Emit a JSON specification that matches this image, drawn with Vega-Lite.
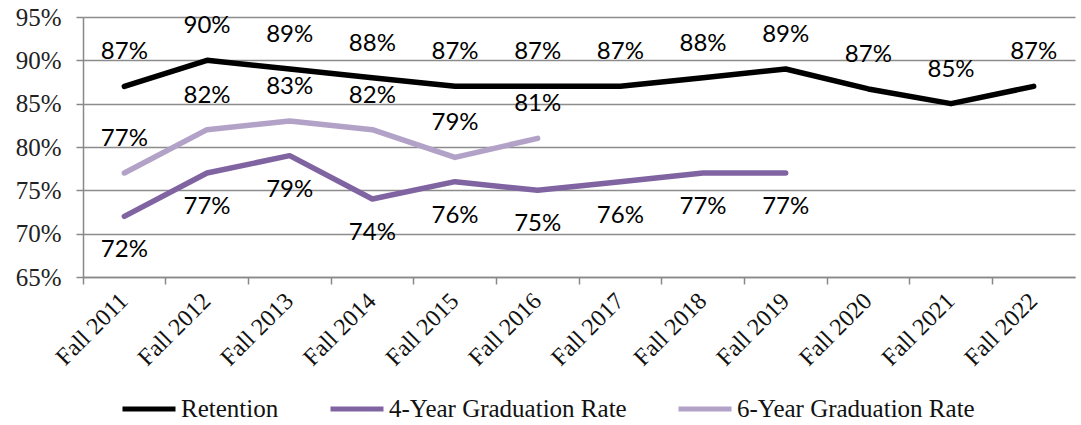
{
  "$schema": "https://vega.github.io/schema/vega-lite/v6.json",
  "width": 992,
  "height": 260,
  "autosize": {"type": "none"},
  "padding": {"left": 83, "top": 17, "right": 6, "bottom": 148},
  "background": "white",
  "config": {"view": {"stroke": null}},
  "data": {
    "values": [
      {"year": "Fall 2011", "series": "Retention", "value": 0.87},
      {"year": "Fall 2012", "series": "Retention", "value": 0.90},
      {"year": "Fall 2013", "series": "Retention", "value": 0.89},
      {"year": "Fall 2014", "series": "Retention", "value": 0.88},
      {"year": "Fall 2015", "series": "Retention", "value": 0.87},
      {"year": "Fall 2016", "series": "Retention", "value": 0.87},
      {"year": "Fall 2017", "series": "Retention", "value": 0.87},
      {"year": "Fall 2018", "series": "Retention", "value": 0.88},
      {"year": "Fall 2019", "series": "Retention", "value": 0.89},
      {"year": "Fall 2020", "series": "Retention", "value": 0.867},
      {"year": "Fall 2021", "series": "Retention", "value": 0.85},
      {"year": "Fall 2022", "series": "Retention", "value": 0.87},
      {"year": "Fall 2011", "series": "4-Year Graduation Rate", "value": 0.72},
      {"year": "Fall 2012", "series": "4-Year Graduation Rate", "value": 0.77},
      {"year": "Fall 2013", "series": "4-Year Graduation Rate", "value": 0.79},
      {"year": "Fall 2014", "series": "4-Year Graduation Rate", "value": 0.74},
      {"year": "Fall 2015", "series": "4-Year Graduation Rate", "value": 0.76},
      {"year": "Fall 2016", "series": "4-Year Graduation Rate", "value": 0.75},
      {"year": "Fall 2017", "series": "4-Year Graduation Rate", "value": 0.76},
      {"year": "Fall 2018", "series": "4-Year Graduation Rate", "value": 0.77},
      {"year": "Fall 2019", "series": "4-Year Graduation Rate", "value": 0.77},
      {"year": "Fall 2011", "series": "6-Year Graduation Rate", "value": 0.77},
      {"year": "Fall 2012", "series": "6-Year Graduation Rate", "value": 0.82},
      {"year": "Fall 2013", "series": "6-Year Graduation Rate", "value": 0.83},
      {"year": "Fall 2014", "series": "6-Year Graduation Rate", "value": 0.82},
      {"year": "Fall 2015", "series": "6-Year Graduation Rate", "value": 0.788},
      {"year": "Fall 2016", "series": "6-Year Graduation Rate", "value": 0.81}
    ]
  },
  "encoding": {
    "x": {
      "field": "year",
      "type": "ordinal",
      "sort": null,
      "scale": {"type": "band", "paddingInner": 0, "paddingOuter": 0}
    },
    "y": {
      "field": "value",
      "type": "quantitative",
      "scale": {"domain": [0.65, 0.95], "nice": false, "zero": false},
      "axis": {
        "title": null,
        "values": [0.65, 0.7, 0.75, 0.8, 0.85, 0.9, 0.95],
        "format": ".0%",
        "labelFont": "Liberation Serif",
        "labelFontSize": 25,
        "labelColor": "#222222",
        "labelPadding": 15,
        "domainColor": "#888888",
        "domainWidth": 1.5,
        "tickColor": "#888888",
        "tickWidth": 1.5,
        "tickSize": 7,
        "grid": true,
        "gridColor": "#8c8c8c",
        "gridWidth": 1.3
      }
    }
  },
  "layer": [
    {
      "mark": {"type": "line", "strokeWidth": 5.5, "strokeCap": "round", "strokeJoin": "round"},
      "encoding": {
        "x": {
          "field": "year",
          "type": "ordinal",
          "sort": null,
          "axis": {
            "title": null,
            "orient": "bottom",
            "ticks": false,
            "labelAngle": -45,
            "labelAlign": "right",
            "labelBaseline": "middle",
            "labelPadding": 20,
            "labelFont": "Liberation Serif",
            "labelFontSize": 24,
            "labelColor": "#111111",
            "domainColor": "#888888",
            "domainWidth": 1.5,
            "grid": false
          }
        },
        "color": {
          "field": "series",
          "type": "nominal",
          "sort": null,
          "scale": {
            "domain": ["Retention", "4-Year Graduation Rate", "6-Year Graduation Rate"],
            "range": ["#000000", "#8064a2", "#b3a2c7"]
          },
          "legend": {
            "title": null,
            "orient": "none",
            "direction": "horizontal",
            "legendX": 37,
            "legendY": 363,
            "symbolType": "stroke",
            "symbolSize": 2809,
            "symbolStrokeWidth": 5,
            "labelFont": "Liberation Serif",
            "labelFontSize": 25,
            "labelColor": "#111111",
            "labelOffset": 3,
            "columnPadding": 41,
            "labelLimit": 400
          }
        }
      }
    },
    {
      "transform": [{"filter": "datum.series === 'Retention'"}],
      "mark": {"type": "text", "dy": -34, "font": "Lato", "fontSize": 24, "color": "#000000"},
      "encoding": {
        "x": {
          "field": "year",
          "type": "ordinal",
          "sort": null,
          "axis": {
            "title": null,
            "orient": "bottom",
            "bandPosition": 0,
            "labels": false,
            "domain": false,
            "ticks": true,
            "tickSize": 7,
            "tickColor": "#888888",
            "tickWidth": 1.5,
            "grid": false
          }
        },
        "text": {"field": "value", "type": "quantitative", "format": ".0%"}
      }
    },
    {
      "transform": [{"filter": "datum.series === '4-Year Graduation Rate'"}],
      "mark": {"type": "text", "dy": 34, "font": "Lato", "fontSize": 24, "color": "#000000"},
      "encoding": {
        "x": {"field": "year", "type": "ordinal", "sort": null, "axis": null},
        "text": {"field": "value", "type": "quantitative", "format": ".0%"}
      }
    },
    {
      "transform": [{"filter": "datum.series === '6-Year Graduation Rate'"}],
      "mark": {"type": "text", "dy": -34, "font": "Lato", "fontSize": 24, "color": "#000000"},
      "encoding": {
        "x": {"field": "year", "type": "ordinal", "sort": null, "axis": null},
        "text": {"field": "value", "type": "quantitative", "format": ".0%"}
      }
    }
  ],
  "resolve": {"axis": {"x": "independent"}}
}
